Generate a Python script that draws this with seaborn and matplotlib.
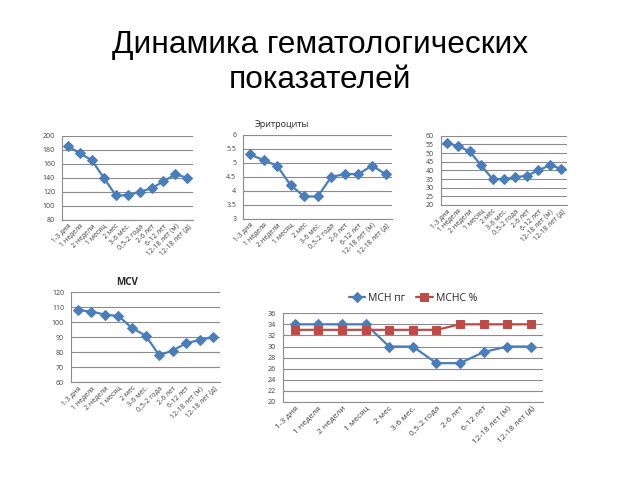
import numpy as np
import pandas as pd
import seaborn as sns
import matplotlib.pyplot as plt

# Age groups shared by all panels
ages = ['1-3 дня', '1 неделя', '2 недели', '1 месяц', '2 мес', '3-6 мес.',
        '0,5-2 года', '2-6 лет', '6-12 лет', '12-18 лет (м)', '12-18 лет (д)']

hb = [185, 175, 165, 140, 115, 115, 120, 125, 135, 145, 140]
rbc = [5.3, 5.1, 4.9, 4.2, 3.8, 3.8, 4.5, 4.6, 4.6, 4.9, 4.6]
hct = [56, 54, 51, 43, 35, 35, 36, 37, 40, 43, 41]
mcv = [108, 107, 105, 104, 96, 91, 78, 81, 86, 88, 90]
mch = [34, 34, 34, 34, 30, 30, 27, 27, 29, 30, 30]
mchc = [33, 33, 33, 33, 33, 33, 33, 34, 34, 34, 34]

BLUE = '#4A7EBB'
RED = '#BE4B48'

sns.set_style('white')
plt.rcParams['font.family'] = ['Open Sans', 'DejaVu Sans']

fig = plt.figure(figsize=(6.4, 4.8), dpi=100)
fig.text(0.5, 0.89, 'Динамика гематологических', ha='center', va='baseline',
         fontsize=22.8, family='Liberation Sans', color='black')
fig.text(0.5, 0.8167, 'показателей', ha='center', va='baseline',
         fontsize=22.8, family='Liberation Sans', color='black')


def style_axis(ax, ylim, step, fs=5, xfs=None):
    xfs = xfs or fs
    ax.set_xlim(-0.5, len(ages) - 0.5)
    ax.set_ylim(*ylim)
    ax.set_yticks(np.arange(ylim[0], ylim[1] + step / 2, step))
    ax.yaxis.grid(True, color='#8c8c8c', lw=0.8)
    ax.set_axisbelow(True)
    for s in ['top', 'right']:
        ax.spines[s].set_visible(False)
    for s in ['left', 'bottom']:
        ax.spines[s].set_color('#8c8c8c')
        ax.spines[s].set_linewidth(0.8)
    ax.set_xticks(range(len(ages)))
    ax.set_xticklabels(ages, rotation=45, ha='right', rotation_mode='anchor', fontsize=xfs, color='#404040')
    ax.set_xticks(np.arange(-0.5, len(ages), 1), minor=True)
    ax.tick_params(axis='x', which='major', length=0, pad=2)
    ax.tick_params(axis='x', which='minor', length=3, color='#8c8c8c', width=0.8)
    ax.tick_params(axis='y', labelsize=fs, colors='#404040', length=3, width=0.8, pad=2)
    ax.tick_params(axis='y', color='#8c8c8c')
    ax.set_xlabel('')
    ax.set_ylabel('')


def draw(ax, values, color=BLUE, marker='D', ms=5, label=None):
    df = pd.DataFrame({'age': ages, 'value': values})
    sns.lineplot(data=df, x='age', y='value', ax=ax, color=color, marker=marker,
                 markersize=ms, markeredgecolor=color, lw=1.6, label=label, sort=False)


ax1 = fig.add_axes([0.097, 0.542, 0.205, 0.175])
draw(ax1, hb)
style_axis(ax1, (80, 200), 20)

ax2 = fig.add_axes([0.380, 0.544, 0.233, 0.175])
draw(ax2, rbc)
style_axis(ax2, (3, 6), 0.5)
ax2.set_yticklabels(['3', '3.5', '4', '4.5', '5', '5.5', '6'])
ax2.set_title('Эритроциты', fontsize=6.5, loc='left', x=0.08, pad=6)

ax3 = fig.add_axes([0.689, 0.573, 0.197, 0.144])
draw(ax3, hct)
style_axis(ax3, (20, 60), 5)

ax4 = fig.add_axes([0.111, 0.204, 0.233, 0.1875])
draw(ax4, mcv)
style_axis(ax4, (60, 120), 10)
ax4.set_title('MCV', fontsize=7, fontweight='bold', loc='left', x=0.3, pad=5)

ax5 = fig.add_axes([0.442, 0.1625, 0.406, 0.185])
draw(ax5, mch, label='MCH пг')
draw(ax5, mchc, color=RED, marker='s', ms=5.5, label='MCHC %')
style_axis(ax5, (20, 36), 2, fs=5.2, xfs=6)
ax5.legend(loc='lower center', bbox_to_anchor=(0.5, 1.0), ncol=2, frameon=False,
           fontsize=7.5, handlelength=1.6, columnspacing=1.0, handletextpad=0.3)

fig.savefig('out.png', dpi=100)
